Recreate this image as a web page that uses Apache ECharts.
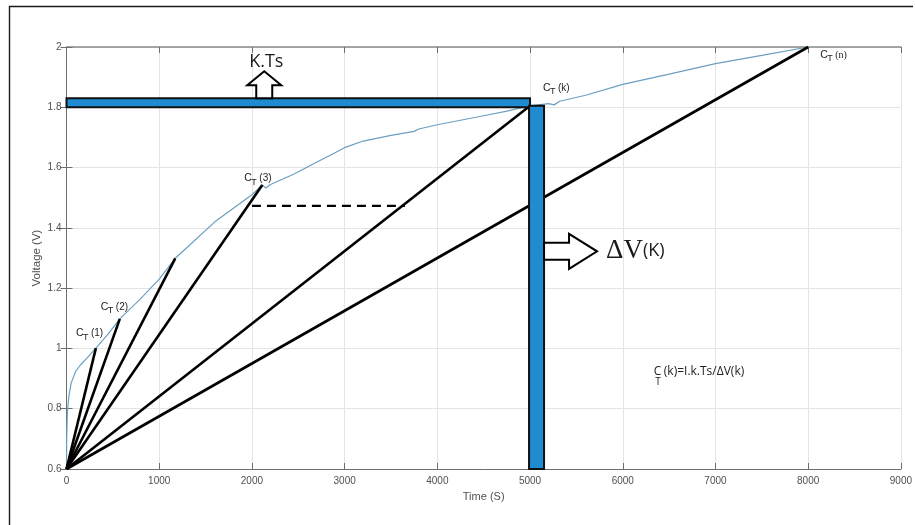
<!DOCTYPE html>
<html>
<head>
<meta charset="utf-8">
<title>Voltage vs time</title>
<script src="https://cdn.jsdelivr.net/npm/echarts@6/dist/echarts.min.js"></script>
<style>
  html, body { margin: 0; padding: 0; background: #ffffff; }
  #chart { width: 915px; height: 525px; }
</style>
</head>
<body>
<div id="chart"></div>
<script>
// Measured terminal voltage while charging at constant current
const timeS = [0, 2, 10, 25, 50, 100, 150, 220, 317, 450, 575, 800, 1000, 1173, 1300, 1600, 1800, 2000,
  2112, 2150, 2200, 2450, 2650, 2850, 3000, 3200, 3500, 3750, 3800, 4000, 4250, 4500, 4750, 5000,
  5200, 5260, 5320, 5600, 6000, 6500, 7000, 7500, 8000];
const voltage = [0.6, 0.7, 0.79, 0.84, 0.885, 0.925, 0.945, 0.968, 1.001, 1.048, 1.098, 1.165, 1.23, 1.299, 1.335, 1.42, 1.465, 1.51,
  1.542, 1.532, 1.544, 1.578, 1.61, 1.642, 1.666, 1.688, 1.707, 1.72, 1.728, 1.742, 1.757, 1.772, 1.787, 1.805,
  1.812, 1.808, 1.82, 1.84, 1.876, 1.91, 1.945, 1.972, 2.0];

// Chords from the start of charge to the sample points C_T(1) ... C_T(n)
const chordStart = [0, 0.6];
const chordEndTime = [317, 575, 1173, 2112, 5000, 8000];
const chordEndVolt = [1.001, 1.098, 1.299, 1.542, 1.805, 2.0];
const chordTags = ['(1)', '(2)', '', '(3)', '(k)', '(n)'];

// Dashed reference level
const refLevelV = 1.473;
const refSpanS = [2000, 3650];

// k·Ts interval and the matching voltage step ΔV(k)
const kTsSpanS = [0, 5000];
const kTsLevelV = 1.815;
const dVTimeS = 5000;
const dVSpanV = [0.6, 1.805];

// Annotation anchors (time, voltage)
const kTsArrowAt = [2133, 1.815];
const dVArrowAt = [5000, 1.322];
const formulaAt = [6335, 0.924];

// Axis ticks
const xTicks = [0, 9000, 1000];
const yTicks = [0.6, 2, 0.2];

// ---------------------------------------------------------------
const BAR_BLUE = '#1f8bd0';
const AXIS_GREY = '#6e6e6e';
const LABEL_GREY = '#505050';
const SANS = '"Liberation Sans", Arial, sans-serif';
const ROUND = '"Open Sans", "Liberation Sans", sans-serif';
const SERIF = '"Liberation Serif", "DejaVu Serif", serif';

// per-tag layout: [dx, dy] of the "C" glyph from the chord end, and font family
const tagLayout = {
  '(1)': { off: [-20, -15], font: SANS },
  '(2)': { off: [-19, -12], font: SANS },
  '(3)': { off: [-18, -7], font: SANS },
  '(k)': { off: [13, -18], font: SANS },
  '(n)': { off: [12, 8], font: SERIF }
};

const chart = echarts.init(document.getElementById('chart'), null, { renderer: 'canvas' });

function txt(x, y, text, size, family, extra) {
  return Object.assign({
    type: 'text', x: x, y: y,
    style: {
      text: text, fill: '#222', fontSize: size, fontFamily: family,
      align: 'left', verticalAlign: 'middle'
    }
  }, extra || {});
}

const plainNumber = v => String(Math.round(v * 1000) / 1000);

const chordSeries = chordEndTime.map((t, i) => ({
  type: 'line', name: 'chord' + i, z: 3,
  data: [chordStart, [t, chordEndVolt[i]]],
  showSymbol: false, silent: true,
  lineStyle: { color: '#000', width: 2.6 }
}));

const tagData = chordEndTime.map((t, i) => [t, chordEndVolt[i], i]).filter(d => chordTags[d[2]]);

const option = {
  animation: false,
  backgroundColor: '#ffffff',
  grid: { left: 66.5, right: 11, top: 47, bottom: 56 },
  xAxis: [{
    type: 'value', min: xTicks[0], max: xTicks[1], interval: xTicks[2],
    name: 'Time (S)', nameLocation: 'middle', nameGap: 22, nameMoveOverlap: false,
    nameTextStyle: { color: LABEL_GREY, fontSize: 11, fontFamily: SANS },
    axisLine: { show: true, lineStyle: { color: AXIS_GREY, width: 1 } },
    axisTick: { show: true, inside: true, length: 6, lineStyle: { color: AXIS_GREY } },
    axisLabel: { color: LABEL_GREY, fontSize: 10, fontFamily: SANS, margin: 7, formatter: plainNumber },
    splitLine: { show: true, lineStyle: { color: '#e4e4e4', width: 1 } }
  }, {
    type: 'value', position: 'top', min: xTicks[0], max: xTicks[1], interval: xTicks[2],
    axisLine: { show: true, lineStyle: { color: '#8a8a8a', width: 1.5 } },
    axisTick: { show: true, inside: true, length: 6, lineStyle: { color: AXIS_GREY } },
    axisLabel: { show: false }, splitLine: { show: false }
  }],
  yAxis: [{
    type: 'value', min: yTicks[0], max: yTicks[1], interval: yTicks[2],
    name: 'Voltage (V)', nameLocation: 'middle', nameGap: 24, nameMoveOverlap: false,
    nameTextStyle: { color: LABEL_GREY, fontSize: 11.5, fontFamily: SANS },
    axisLine: { show: true, lineStyle: { color: AXIS_GREY, width: 1 } },
    axisTick: { show: true, inside: true, length: 6, lineStyle: { color: AXIS_GREY } },
    axisLabel: { color: LABEL_GREY, fontSize: 10, fontFamily: SANS, margin: 5, formatter: plainNumber },
    splitLine: { show: true, lineStyle: { color: '#e4e4e4', width: 1 } }
  }, {
    type: 'value', position: 'right', min: yTicks[0], max: yTicks[1], interval: yTicks[2],
    axisLine: { show: true, lineStyle: { color: AXIS_GREY, width: 1 } },
    axisTick: { show: true, inside: true, length: 6, lineStyle: { color: AXIS_GREY } },
    axisLabel: { show: false }, splitLine: { show: false }
  }],
  graphic: [
    { type: 'polyline', silent: true, z: 100,
      shape: { points: [[9.5, 525], [9.5, 6.5], [913, 6.5]] },
      style: { stroke: '#1a1a1a', lineWidth: 1.4, fill: null } }
  ],
  series: [
    {
      type: 'line', name: 'Voltage', z: 2,
      data: timeS.map((t, i) => [t, voltage[i]]),
      showSymbol: false, silent: true,
      lineStyle: { color: '#6a9fc2', width: 1.2 }
    },
    ...chordSeries,
    {
      type: 'line', name: 'reference', z: 3,
      data: [[refSpanS[0], refLevelV], [refSpanS[1], refLevelV]],
      showSymbol: false, silent: true,
      lineStyle: { color: '#000', width: 2.4, type: [9, 6] }
    },
    {
      // horizontal k·Ts bar
      type: 'custom', name: 'kTs', z: 5, silent: true,
      data: [[kTsSpanS[0], kTsLevelV, kTsSpanS[1]]],
      renderItem(params, api) {
        const a = api.coord([api.value(0), api.value(1)]);
        const b = api.coord([api.value(2), api.value(1)]);
        return {
          type: 'rect',
          shape: { x: a[0], y: a[1] - 4.5, width: b[0] - a[0], height: 9 },
          style: { fill: BAR_BLUE, stroke: '#111', lineWidth: 2 }
        };
      }
    },
    {
      // vertical ΔV(k) bar
      type: 'custom', name: 'dV', z: 5, silent: true,
      data: [[dVTimeS, dVSpanV[0], dVSpanV[1]]],
      renderItem(params, api) {
        const lo = api.coord([api.value(0), api.value(1)]);
        const hi = api.coord([api.value(0), api.value(2)]);
        return {
          type: 'rect',
          shape: { x: lo[0] - 1, y: hi[1], width: 15, height: lo[1] - hi[1] },
          style: { fill: BAR_BLUE, stroke: '#111', lineWidth: 2 }
        };
      }
    },
    {
      // arrow pointing up from the k·Ts bar
      type: 'custom', name: 'kTsArrow', z: 6, silent: true,
      data: [kTsArrowAt],
      renderItem(params, api) {
        const p = api.coord([api.value(0), api.value(1)]);
        const cx = p[0], by = p[1] - 4.5;
        return {
          type: 'group', children: [
            { type: 'polygon',
              shape: { points: [[cx - 8, by], [cx - 8, by - 13], [cx - 17, by - 13], [cx, by - 27],
                                [cx + 17, by - 13], [cx + 8, by - 13], [cx + 8, by]] },
              style: { fill: '#fff', stroke: '#000', lineWidth: 2 } },
            { type: 'text', x: cx + 2, y: by - 36,
              style: { text: 'K.Ts', fill: '#1a1a1a', fontSize: 18, fontFamily: ROUND,
                       align: 'center', verticalAlign: 'middle' } }
          ]
        };
      }
    },
    {
      // arrow pointing right from the ΔV bar
      type: 'custom', name: 'dVArrow', z: 6, silent: true,
      data: [dVArrowAt],
      renderItem(params, api) {
        const p = api.coord([api.value(0), api.value(1)]);
        const bx = p[0] + 14, cy = p[1];
        return {
          type: 'group', children: [
            { type: 'polygon',
              shape: { points: [[bx, cy - 8.5], [bx + 25, cy - 8.5], [bx + 25, cy - 17.5], [bx + 53, cy],
                                [bx + 25, cy + 17.5], [bx + 25, cy + 8.5], [bx, cy + 8.5]] },
              style: { fill: '#fff', stroke: '#000', lineWidth: 2 } },
            { type: 'text', x: bx + 62, y: cy,
              style: { text: '{d|ΔV}{k|(K)}', align: 'left', verticalAlign: 'middle',
                       rich: {
                         d: { fontSize: 27, fontFamily: SERIF, fill: '#1a1a1a' },
                         k: { fontSize: 18, fontFamily: ROUND, fill: '#1a1a1a' }
                       } } }
          ]
        };
      }
    },
    {
      // C_T tags at the chord ends
      type: 'custom', name: 'tags', z: 7, silent: true,
      data: tagData,
      renderItem(params, api) {
        const p = api.coord([api.value(0), api.value(1)]);
        const tag = chordTags[api.value(2)];
        const lay = tagLayout[tag];
        const x = p[0] + lay.off[0], y = p[1] + lay.off[1];
        return {
          type: 'group', children: [
            txt(x, y, 'C', 10.5, SANS),
            txt(x + 7, y + 4, 'T', 9, SANS),
            txt(x + 15, y, tag, 10, lay.font)
          ]
        };
      }
    },
    {
      // capacitance expression
      type: 'custom', name: 'formula', z: 7, silent: true,
      data: [formulaAt],
      renderItem(params, api) {
        const p = api.coord([api.value(0), api.value(1)]);
        const x = p[0], y = p[1];
        return {
          type: 'group', children: [
            txt(x, y, 'C', 12, ROUND),
            txt(x + 1.5, y + 11, 'T', 10, ROUND),
            txt(x + 10, y, '(k)=I.k.Ts/ΔV(k)', 12, ROUND)
          ]
        };
      }
    }
  ]
};

chart.setOption(option);
</script>
</body>
</html>
